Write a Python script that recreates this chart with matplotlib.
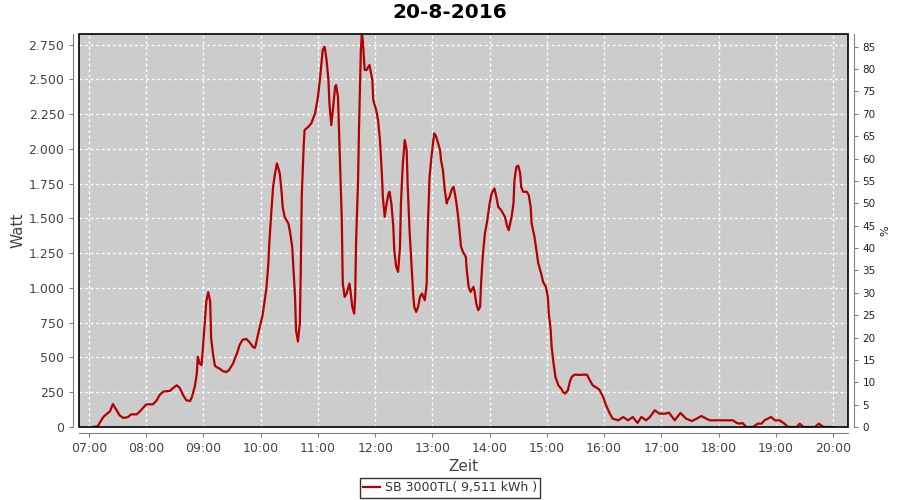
import pandas as pd
import matplotlib
matplotlib.use("Agg")
import matplotlib.pyplot as plt
import matplotlib.dates as mdates
from matplotlib.patches import Rectangle
from matplotlib.ticker import FuncFormatter, MultipleLocator

# Messwerte SB 3000TL, 20-8-2016
zeiten = [
    "07:04", "07:09", "07:15", "07:18", "07:22", "07:25", "07:29", "07:32", "07:36", "07:41",
    "07:44", "07:50", "07:53", "08:00", "08:07", "08:11", "08:14", "08:18", "08:25", "08:28",
    "08:32", "08:35", "08:39", "08:42", "08:46", "08:48", "08:51", "08:53", "08:54", "08:56",
    "08:58", "08:59", "09:01", "09:03", "09:05", "09:07", "09:08", "09:10", "09:12", "09:14",
    "09:17", "09:20", "09:24", "09:27", "09:31", "09:35", "09:38", "09:41", "09:45", "09:48",
    "09:52", "09:54", "09:55", "09:59", "10:02", "10:06", "10:08", "10:09", "10:11", "10:13",
    "10:15", "10:17", "10:20", "10:22", "10:23", "10:25", "10:29", "10:31", "10:33", "10:34",
    "10:36", "10:37", "10:39", "10:41", "10:42", "10:43", "10:45", "10:46", "10:50", "10:53",
    "10:57", "11:00", "11:02", "11:04", "11:05", "11:07", "11:09", "11:11", "11:12", "11:14",
    "11:16", "11:18", "11:19", "11:21", "11:23", "11:25", "11:26", "11:28", "11:30", "11:33",
    "11:34", "11:36", "11:38", "11:39", "11:40", "11:42", "11:43", "11:45", "11:46", "11:47",
    "11:49", "11:51", "11:54", "11:55", "11:57", "11:58", "12:01", "12:03", "12:05", "12:07",
    "12:08", "12:10", "12:12", "12:14", "12:15", "12:17", "12:19", "12:20", "12:22", "12:24",
    "12:26", "12:27", "12:29", "12:31", "12:33", "12:34", "12:36", "12:38", "12:40", "12:41",
    "12:43", "12:45", "12:47", "12:49", "12:52", "12:54", "12:55", "12:57", "12:59", "13:01",
    "13:02", "13:04", "13:06", "13:08", "13:09", "13:11", "13:13", "13:15", "13:16", "13:18",
    "13:20", "13:22", "13:23", "13:25", "13:27", "13:29", "13:30", "13:32", "13:35", "13:36",
    "13:38", "13:40", "13:43", "13:44", "13:46", "13:48", "13:50", "13:51", "13:53", "13:55",
    "13:57", "13:58", "14:00", "14:02", "14:05", "14:07", "14:09", "14:12", "14:16", "14:18",
    "14:20", "14:23", "14:25", "14:26", "14:28", "14:30", "14:32", "14:33", "14:35", "14:39",
    "14:41", "14:43", "14:44", "14:47", "14:49", "14:51", "14:54", "14:56", "14:59", "15:01",
    "15:02", "15:04", "15:05", "15:07", "15:09", "15:12", "15:15", "15:17", "15:19", "15:22",
    "15:24", "15:26", "15:29", "15:33", "15:42", "15:45", "15:48", "15:52", "15:55", "15:59",
    "16:02", "16:06", "16:09", "16:15", "16:20", "16:25", "16:30", "16:35", "16:39", "16:44",
    "16:48", "16:53", "16:58", "17:04", "17:08", "17:14", "17:20", "17:26", "17:32", "17:37",
    "17:42", "17:47", "17:51", "18:15", "18:19", "18:22", "18:25", "18:29", "18:36", "18:41",
    "18:45", "18:48", "18:55", "18:59", "19:04", "19:09", "19:13", "19:22", "19:25", "19:29",
    "19:41", "19:45", "19:48", "19:50", "20:00",
]
watt = [
    0, 5, 72, 91, 113, 165, 120, 84, 65, 72,
    91, 91, 110, 163, 163, 192, 230, 255, 260, 280,
    300, 282, 225, 192, 187, 218, 295, 385, 505, 457,
    445, 530, 720, 905, 970, 905, 640, 525, 440, 430,
    420, 403, 395, 412, 457, 528, 592, 628, 633, 612,
    575, 570, 598, 720, 805, 1000, 1176, 1320, 1536, 1728,
    1824, 1896, 1824, 1680, 1584, 1512, 1464, 1392, 1296, 1176,
    936, 696, 615, 744, 1128, 1656, 2016, 2136, 2160, 2184,
    2256, 2376, 2496, 2640, 2712, 2736, 2640, 2496, 2328, 2172,
    2304, 2448, 2460, 2376, 1920, 1488, 1032, 936, 960, 1032,
    984, 864, 816, 936, 1344, 1752, 2136, 2712, 2830, 2784,
    2568, 2568, 2604, 2568, 2496, 2352, 2280, 2208, 2064, 1824,
    1656, 1512, 1608, 1680, 1692, 1608, 1440, 1272, 1152, 1116,
    1296, 1608, 1896, 2064, 1992, 1752, 1416, 1176, 936, 864,
    828, 864, 936, 960, 912, 1032, 1392, 1800, 1944, 2064,
    2112, 2088, 2040, 1992, 1920, 1848, 1704, 1608, 1632, 1656,
    1704, 1728, 1700, 1620, 1512, 1368, 1296, 1260, 1224, 1128,
    1008, 972, 1008, 984, 888, 840, 864, 1032, 1248, 1392,
    1464, 1512, 1608, 1680, 1716, 1656, 1584, 1560, 1512, 1452,
    1416, 1512, 1608, 1776, 1872, 1880, 1824, 1728, 1692, 1692,
    1668, 1584, 1464, 1368, 1272, 1176, 1104, 1044, 1008, 936,
    816, 696, 576, 456, 360, 300, 276, 252, 240, 264,
    324, 360, 377, 375, 377, 336, 300, 283, 269, 216,
    156, 96, 60, 48, 72, 48, 72, 29, 72, 48,
    72, 120, 96, 96, 103, 48, 101, 60, 43, 60,
    79, 60, 48, 48, 29, 24, 29, 0, 0, 24,
    24, 48, 72, 48, 48, 24, 0, 0, 24, 0,
    0, 24, 10, 0, 0,
]
titel = "20-8-2016"
legende = "SB 3000TL( 9,511 kWh )"
watt_ticks = [0, 250, 500, 750, 1000, 1250, 1500, 1750, 2000, 2250, 2500, 2750]

tag = "2016-08-20 "
x = pd.to_datetime([tag + z for z in zeiten])

fig = plt.figure(figsize=(9, 5), dpi=100)
ax = fig.add_axes([79 / 900, 1 - 427 / 500, 769 / 900, 393 / 500])
ax.set_facecolor("#cccccc")

linie, = ax.plot(x, watt, color="#b40000", lw=1.6, label=legende, zorder=3)

ax.set_xlim(pd.Timestamp(tag + "06:49:30"), pd.Timestamp(tag + "20:15:40"))
ax.set_ylim(0, 2827)
ax.set_yticks(watt_ticks)
ax.yaxis.set_major_formatter(FuncFormatter(lambda v, p: f"{int(v):,}".replace(",", ".")))
ax.xaxis.set_major_locator(mdates.HourLocator())
ax.xaxis.set_major_formatter(mdates.DateFormatter("%H:%M"))

ax.grid(True, color="white", linestyle=(0, (2, 2)), linewidth=1)
ax.set_axisbelow(True)

# schwarzer Rahmen um die Zeichenfläche
ax.add_patch(Rectangle((0, 0), 1, 1, transform=ax.transAxes, fill=False,
                       edgecolor="black", linewidth=1.2, zorder=5, clip_on=False))

for s in ["top", "right"]:
    ax.spines[s].set_visible(False)
for s in ["left", "bottom"]:
    ax.spines[s].set_position(("outward", 4))
    ax.spines[s].set_color("#808080")
ax.tick_params(colors="#808080", labelcolor="#444444", labelsize=9, length=3)

ax.set_xlabel("Zeit", fontsize=11, color="#444444", labelpad=3)
ax.set_ylabel("Watt", fontsize=11, color="#444444", labelpad=2)
fig.text(0.5, 1 - 13 / 500, titel, ha="center", va="center",
         fontsize=14.5, fontweight="bold")

# rechte Achse in Prozent
ax2 = ax.twinx()
ax2.set_ylim(0, 2827 / 32.18)
ax2.yaxis.set_major_locator(MultipleLocator(5))
for s in ["top", "left", "bottom"]:
    ax2.spines[s].set_visible(False)
ax2.spines["right"].set_position(("outward", 4))
ax2.spines["right"].set_color("#808080")
ax2.tick_params(colors="#808080", labelcolor="#222222", labelsize=7.5, length=3)
ax2.set_ylabel("%", fontsize=8, color="#222222", labelpad=3)

leg = fig.legend(handles=[linie], loc="center", bbox_to_anchor=(0.5, 0.024),
                 fontsize=9, frameon=True, fancybox=False, handlelength=1.3,
                 handletextpad=0.4, borderpad=0.3)
leg.get_frame().set_edgecolor("black")
leg.get_frame().set_linewidth(1)
for t in leg.get_texts():
    t.set_color("#333333")

fig.savefig("out.png", dpi=100)
